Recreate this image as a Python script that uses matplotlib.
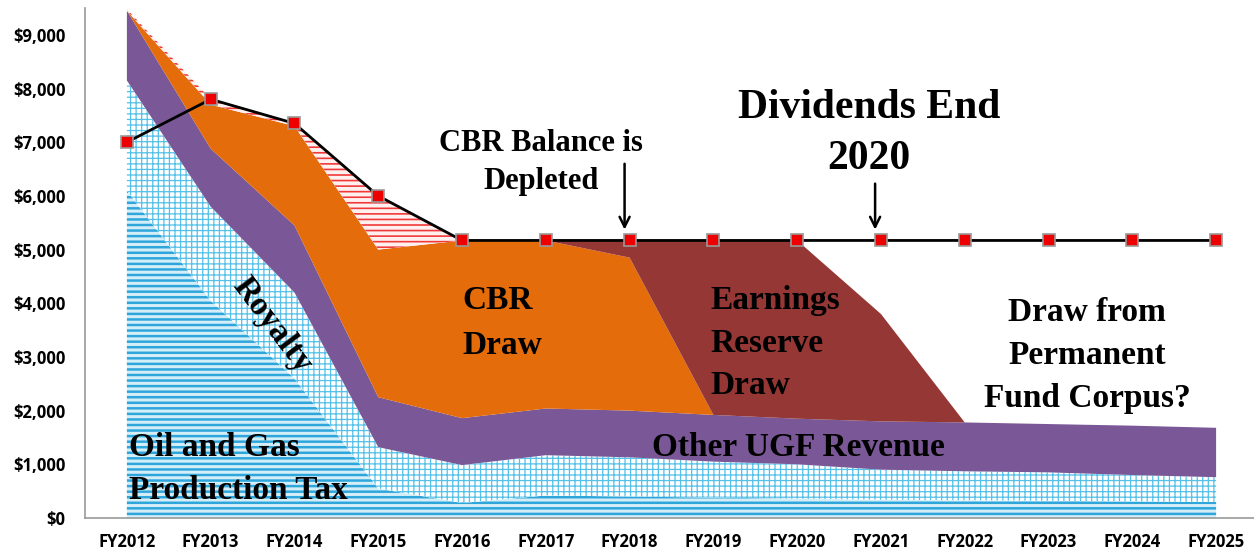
import numpy as np
import matplotlib.pyplot as plt

years = ['FY2012', 'FY2013', 'FY2014', 'FY2015', 'FY2016', 'FY2017', 'FY2018',
         'FY2019', 'FY2020', 'FY2021', 'FY2022', 'FY2023', 'FY2024', 'FY2025']

# stacked layers ($ millions), bottom to top
prod_tax = [6100, 4050, 2600, 550, 280, 420, 400, 380, 360, 340, 330, 320, 310, 300]
royalty = [2050, 1750, 1600, 770, 705, 750, 730, 670, 640, 560, 540, 530, 490, 460]
other_ugf = [1300, 1080, 1250, 930, 875, 870, 870, 870, 850, 900, 910, 900, 920, 920]
cbr_draw = [0, 820, 1850, 2750, 3310, 3130, 2850, 0, 0, 0, 0, 0, 0, 0]
era_draw = [0, 0, 0, 0, 0, 0, 320, 3250, 3320, 2000, 0, 0, 0, 0]
shortfall = [30, 100, 50, 1000, 0, 0, 0, 0, 0, 0, 0, 0, 0, 0]

# budget line
budget = [7000, 7800, 7350, 6000, 5170, 5170, 5170, 5170, 5170, 5170, 5170, 5170, 5170, 5170]

plt.rcParams['hatch.linewidth'] = 1.2

fig = plt.figure(figsize=(12.54, 5.54), dpi=100)
ax = fig.add_axes([85 / 1254, 36 / 554, 1173 / 1254, 510 / 554])

x = np.arange(len(years))
layers = [prod_tax, royalty, other_ugf, cbr_draw, era_draw, shortfall]
styles = [
    dict(facecolor='#d4eef8', edgecolor='#2ea6dc', hatch='---'),
    dict(facecolor='white', edgecolor='#55c0e8', hatch='+++'),
    dict(facecolor='#7a5796', edgecolor='none'),
    dict(facecolor='#e46c0a', edgecolor='none'),
    dict(facecolor='#953735', edgecolor='none'),
    dict(facecolor='#fff0f0', edgecolor='#f03a3a', hatch='---'),
]
hatch_lw = [1.8, 0.9, None, None, None, 1.2]
base = np.zeros(len(years))
for vals, st, hl in zip(layers, styles, hatch_lw):
    top = base + np.array(vals)
    poly = ax.fill_between(x, base, top, linewidth=0, **st)
    if hl is not None and hasattr(poly, 'set_hatch_linewidth'):
        poly.set_hatch_linewidth(hl)
    base = top

ax.plot(x, budget, color='black', lw=2, marker='s', markersize=8,
        markerfacecolor='#ee0000', markeredgecolor='#999999', markeredgewidth=1.2,
        zorder=5)

ax.set_xlim(-0.5, 13.5)
ax.set_ylim(0, 9500)
ax.set_xticks(x)
ax.set_xticklabels(years)
ax.set_yticks(range(0, 10000, 1000))
ax.set_yticklabels(['$0'] + ['${:,}'.format(v) for v in range(1000, 10000, 1000)])
for lab in ax.get_xticklabels() + ax.get_yticklabels():
    lab.set_fontfamily('Open Sans')
    lab.set_fontweight('bold')
    lab.set_fontsize(12)
ax.tick_params(axis='both', length=0)
ax.tick_params(axis='x', pad=11)
ax.tick_params(axis='y', pad=14)

for s in ['top', 'right']:
    ax.spines[s].set_visible(False)
for s in ['left', 'bottom']:
    ax.spines[s].set_color('#999999')
    ax.spines[s].set_linewidth(1.2)

serif = dict(family='Liberation Serif', fontweight='bold', color='black',
             va='center')
ax.text(0.03, 1320, 'Oil and Gas', ha='left', fontsize=24, **serif)
ax.text(0.03, 520, 'Production Tax', ha='left', fontsize=24, **serif)
ax.text(1.73, 3590, 'Royalty', ha='center', rotation=-53, fontsize=24, **serif)
ax.text(4.0, 4050, 'CBR', ha='left', fontsize=24, **serif)
ax.text(4.0, 3215, 'Draw', ha='left', fontsize=24, **serif)
ax.text(6.96, 4050, 'Earnings', ha='left', fontsize=24, **serif)
ax.text(6.96, 3250, 'Reserve', ha='left', fontsize=24, **serif)
ax.text(6.96, 2470, 'Draw', ha='left', fontsize=24, **serif)
ax.text(8.02, 1320, 'Other UGF Revenue', ha='center', fontsize=24, **serif)
ax.text(11.46, 3830, 'Draw from', ha='center', fontsize=24, **serif)
ax.text(11.46, 3030, 'Permanent', ha='center', fontsize=24, **serif)
ax.text(11.46, 2230, 'Fund Corpus?', ha='center', fontsize=24, **serif)
ax.text(8.86, 7640, 'Dividends End', ha='center', fontsize=30, **serif)
ax.text(8.86, 6690, '2020', ha='center', fontsize=30, **serif)
ax.text(4.94, 6970, 'CBR Balance is', ha='center', fontsize=22, **serif)
ax.text(4.94, 6260, 'Depleted', ha='center', fontsize=22, **serif)

arrow = dict(arrowstyle='->', color='black', lw=1.8, mutation_scale=18)
ax.annotate('', xy=(5.94, 5320), xytext=(5.94, 6650), arrowprops=arrow)
ax.annotate('', xy=(8.93, 5320), xytext=(8.93, 6280), arrowprops=arrow)

fig.savefig('out.png', dpi=100)
